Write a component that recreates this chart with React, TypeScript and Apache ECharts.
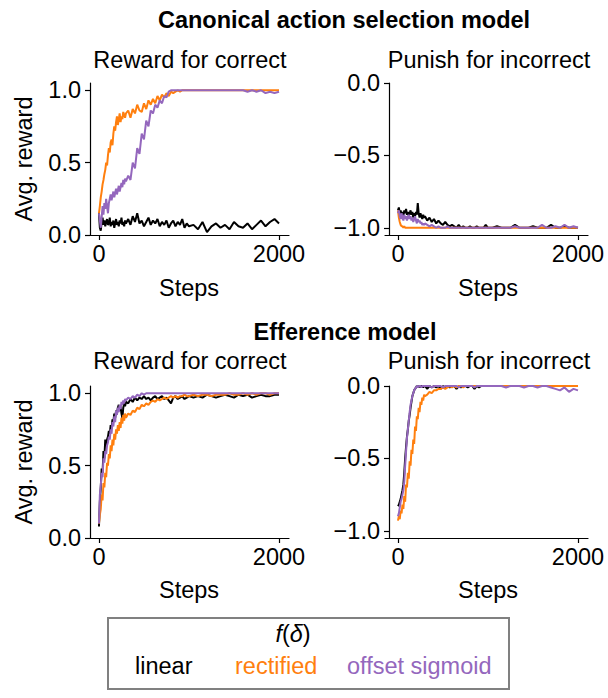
import React, { useEffect, useRef } from "react";
import * as echarts from "echarts";

const steps = [
  0, 10, 20, 30, 40, 50, 60, 70, 80, 90, 100, 110, 120, 130, 140, 150, 160, 170, 180, 190, 200, 210, 220, 230, 240, 250, 260, 270, 280, 290, 300,
  325, 350, 375, 400, 425, 450, 475, 500, 525, 550, 575, 600, 625, 650, 675, 700, 725, 750, 775, 800, 825, 850, 875, 900, 925, 950, 975, 1000,
  1050, 1100, 1150, 1200, 1250, 1300, 1350, 1400, 1450, 1500, 1550, 1600, 1650, 1700, 1750, 1800, 1850, 1900, 1950, 2000,
];

// Canonical action selection model — reward for correct
const canonRewardLinear = [
  0.15, 0.05, 0.03, 0.09, 0.12, 0.07, 0.1, 0.06, 0.09, 0.11, 0.07, 0.08, 0.12, 0.06, 0.09, 0.07, 0.1, 0.05, 0.08, 0.11, 0.07, 0.09, 0.06, 0.1, 0.08, 0.12, 0.07, 0.09, 0.06, 0.1, 0.08,
  0.11, 0.07, 0.13, 0.09, 0.15, 0.08, 0.1, 0.06, 0.09, 0.12, 0.07, 0.1, 0.08, 0.11, 0.06, 0.09, 0.07, 0.1, 0.05, 0.08, 0.1, 0.06, 0.09, 0.07, 0.11, 0.05, 0.08, 0.06,
  0.07, 0.04, 0.09, 0.02, 0.06, 0.08, 0.05, 0.07, 0.04, 0.09, 0.06, 0.05, 0.08, 0.04, 0.07, 0.1, 0.06, 0.09, 0.11, 0.08,
];
const canonRewardRectified = [
  0.15, 0.2, 0.26, 0.3, 0.35, 0.38, 0.42, 0.45, 0.5, 0.48, 0.55, 0.6, 0.57, 0.64, 0.66, 0.62, 0.7, 0.75, 0.72, 0.78, 0.82, 0.76, 0.8, 0.84, 0.78, 0.82, 0.8, 0.85, 0.83, 0.81, 0.84,
  0.86, 0.81, 0.87, 0.84, 0.9, 0.86, 0.85, 0.91, 0.87, 0.93, 0.9, 0.94, 0.91, 0.96, 0.93, 0.97, 0.95, 0.98, 0.96, 0.99, 0.98, 0.99, 1, 0.99, 1, 1, 1, 1,
  1, 1, 1, 1, 1, 1, 1, 1, 1, 1, 1, 1, 1, 1, 1, 1, 1, 1, 1, 1,
];
const canonRewardSigmoid = [
  0.15, 0.1, 0.05, 0.12, 0.2, 0.14, 0.22, 0.18, 0.25, 0.2, 0.15, 0.22, 0.25, 0.28, 0.24, 0.27, 0.3, 0.26, 0.29, 0.32, 0.28, 0.31, 0.34, 0.3, 0.33, 0.36, 0.33, 0.38, 0.35, 0.39, 0.37,
  0.41, 0.38, 0.5, 0.46, 0.6, 0.56, 0.7, 0.66, 0.79, 0.75, 0.86, 0.84, 0.9, 0.88, 0.93, 0.91, 0.96, 0.95, 0.99, 1, 1, 1, 1, 1, 1, 1, 1, 1,
  1, 1, 1, 1, 1, 1, 1, 1, 1, 1, 1, 1, 0.99, 1, 0.99, 1, 0.98, 0.99, 0.98, 0.99,
];

// Canonical action selection model — punish for incorrect
const canonPunishLinear = [
  -0.88, -0.86, -0.9, -0.88, -0.91, -0.89, -0.92, -0.88, -0.9, -0.87, -0.91, -0.89, -0.92, -0.9, -0.88, -0.91, -0.89, -0.93, -0.9, -0.92, -0.89, -0.91, -0.83, -0.9, -0.93, -0.9, -0.92, -0.94, -0.91, -0.93, -0.92,
  -0.95, -0.93, -0.96, -0.94, -0.97, -0.95, -0.97, -0.98, -0.96, -0.98, -0.99, -0.98, -0.99, -1, -0.98, -1, -0.99, -1, -1, -0.99, -1, -1, -0.99, -1, -1, -1, -0.98, -1,
  -1, -0.99, -1, -1, -1, -0.98, -1, -1, -1, -0.99, -1, -1, -1, -0.98, -1, -1, -0.99, -1, -1, -1,
];
const canonPunishRectified = [
  -0.88, -0.93, -0.96, -0.98, -0.99, -0.99, -1, -0.99, -1, -1, -1, -1, -1, -1, -1, -1, -1, -1, -1, -1, -1, -1, -1, -1, -1, -1, -1, -1, -1, -1, -1,
  -1, -1, -1, -1, -1, -1, -1, -1, -1, -1, -1, -1, -1, -1, -1, -1, -1, -1, -1, -1, -1, -1, -1, -1, -1, -1, -1, -1,
  -1, -1, -1, -1, -1, -1, -1, -1, -1, -1, -1, -1, -1, -1, -1, -1, -1, -1, -1, -1,
];
const canonPunishSigmoid = [
  -0.9, -0.88, -0.92, -0.94, -0.9, -0.93, -0.95, -0.91, -0.94, -0.92, -0.95, -0.93, -0.91, -0.94, -0.92, -0.95, -0.93, -0.96, -0.94, -0.92, -0.95, -0.97, -0.94, -0.96, -0.95, -0.97, -0.96, -0.98, -0.97, -0.98, -0.97,
  -0.98, -0.99, -0.98, -0.99, -1, -0.99, -1, -1, -1, -0.99, -1, -1, -1, -1, -1, -1, -1, -1, -1, -1, -1, -1, -1, -1, -1, -1, -1, -1,
  -1, -1, -1, -1, -1, -0.99, -1, -1, -1, -1, -1, -0.98, -1, -1, -0.99, -1, -0.98, -1, -0.99, -1,
];

// Efference model — reward for correct
const effRewardLinear = [
  0.08, 0.25, 0.35, 0.48, 0.45, 0.6, 0.55, 0.68, 0.64, 0.68, 0.7, 0.74, 0.72, 0.78, 0.76, 0.82, 0.8, 0.86, 0.83, 0.88, 0.86, 0.9, 0.92, 0.88, 0.91, 0.86, 0.83, 0.9, 0.93, 0.91, 0.94,
  0.93, 0.96, 0.94, 0.97, 0.95, 0.97, 0.96, 0.98, 0.96, 0.97, 0.95, 0.97, 0.98, 0.96, 0.97, 0.98, 0.96, 0.97, 0.95, 0.93, 0.97, 0.98, 0.96, 0.97, 0.98, 0.96, 0.97, 0.98,
  0.97, 0.98, 0.97, 0.99, 0.98, 0.97, 0.98, 0.99, 0.98, 0.97, 0.99, 0.98, 0.99, 0.97, 0.98, 0.99, 0.98, 0.98, 0.99, 0.99,
];
const effRewardRectified = [
  0.1, 0.16, 0.2, 0.3, 0.26, 0.38, 0.35, 0.45, 0.42, 0.52, 0.5, 0.58, 0.55, 0.64, 0.6, 0.68, 0.64, 0.72, 0.68, 0.75, 0.72, 0.78, 0.74, 0.8, 0.76, 0.83, 0.79, 0.85, 0.81, 0.86, 0.83,
  0.86, 0.85, 0.88, 0.87, 0.9, 0.89, 0.92, 0.91, 0.93, 0.92, 0.94, 0.95, 0.94, 0.96, 0.95, 0.96, 0.97, 0.96, 0.97, 0.98, 0.97, 0.98, 0.97, 0.98, 0.98, 0.99, 0.98, 0.98,
  0.99, 0.98, 0.99, 0.99, 0.98, 0.99, 0.99, 0.99, 1, 0.99, 0.99, 1, 0.99, 1, 0.99, 1, 1, 0.99, 1, 1,
];
const effRewardSigmoid = [
  0.1, 0.3, 0.36, 0.45, 0.42, 0.55, 0.52, 0.6, 0.58, 0.64, 0.66, 0.7, 0.68, 0.75, 0.72, 0.8, 0.77, 0.84, 0.8, 0.88, 0.85, 0.9, 0.87, 0.92, 0.89, 0.94, 0.92, 0.95, 0.93, 0.96, 0.95,
  0.97, 0.96, 0.98, 0.97, 0.99, 0.98, 1, 0.99, 1, 1, 1, 1, 1, 1, 1, 1, 1, 1, 1, 1, 1, 1, 1, 1, 1, 1, 1, 1,
  1, 1, 1, 1, 1, 1, 1, 1, 1, 1, 1, 1, 1, 1, 1, 1, 1, 1, 1, 1,
];

// Efference model — punish for incorrect
const effPunishLinear = [
  -0.83, -0.82, -0.8, -0.78, -0.75, -0.72, -0.68, -0.6, -0.5, -0.42, -0.35, -0.3, -0.24, -0.2, -0.15, -0.11, -0.07, -0.05, -0.03, -0.02, -0.01, 0, -0.01, 0, 0, -0.01, 0, 0, -0.01, 0, 0,
  -0.02, 0, -0.01, 0, -0.01, 0, -0.02, 0, -0.01, 0, -0.01, 0, 0, -0.02, 0, -0.01, 0, 0, -0.01, 0, 0, -0.02, 0, -0.01, 0, 0, 0, 0,
  0, 0, 0, 0, 0, 0, 0, 0, 0, 0, 0, 0, 0, 0, 0, 0, 0, 0, 0, 0,
];
const effPunishRectified = [
  -0.93, -0.9, -0.92, -0.86, -0.88, -0.82, -0.85, -0.76, -0.8, -0.68, -0.7, -0.6, -0.64, -0.52, -0.55, -0.44, -0.47, -0.37, -0.4, -0.28, -0.31, -0.21, -0.23, -0.15, -0.18, -0.11, -0.13, -0.08, -0.1, -0.06, -0.07,
  -0.06, -0.04, -0.05, -0.03, -0.03, -0.02, -0.02, -0.01, -0.02, -0.01, 0, -0.01, 0, -0.01, 0, 0, -0.01, 0, 0, 0, 0, 0, 0, 0, 0, 0, 0, 0,
  0, 0, 0, 0, 0, 0, 0, 0, 0, 0, 0, 0, 0, 0, 0, 0, 0, 0, 0, 0,
];
const effPunishSigmoid = [
  -0.9, -0.88, -0.84, -0.8, -0.78, -0.75, -0.72, -0.66, -0.55, -0.45, -0.36, -0.3, -0.24, -0.18, -0.13, -0.1, -0.07, -0.05, -0.03, -0.02, -0.01, 0, -0.01, 0, 0, 0, -0.01, 0, 0, 0, 0,
  0, 0, -0.01, 0, 0, 0, 0, -0.01, 0, 0, 0, 0, 0, 0, -0.01, 0, 0, 0, 0, 0, 0, -0.01, 0, 0, 0, 0, 0, 0,
  0, 0, 0, -0.01, 0, 0, 0, -0.01, 0, 0, -0.01, 0, 0, -0.01, -0.02, -0.03, -0.01, -0.04, -0.02, -0.03,
];

const xTicks = [0, 2000];
const rewardTicks = [0, 0.5, 1];
const punishTicks = [-1, -0.5, 0];

const FONT = "'Liberation Sans', Arial, Helvetica, sans-serif";
const FS = 23.5;
const C_LIN = "#000000";
const C_REC = "#ff7f0e";
const C_SIG = "#9467bd";

const panels = [
  { lin: canonRewardLinear, rec: canonRewardRectified, sig: canonRewardSigmoid, ticks: rewardTicks, min: 0, max: 1.05 },
  { lin: canonPunishLinear, rec: canonPunishRectified, sig: canonPunishSigmoid, ticks: punishTicks, min: -1.05, max: 0 },
  { lin: effRewardLinear, rec: effRewardRectified, sig: effRewardSigmoid, ticks: rewardTicks, min: 0, max: 1.05 },
  { lin: effPunishLinear, rec: effPunishRectified, sig: effPunishSigmoid, ticks: punishTicks, min: -1.05, max: 0 },
];

const gridPos = [
  { left: 86, top: 83 },
  { left: 385, top: 83 },
  { left: 86, top: 386 },
  { left: 385, top: 386 },
];

function pairs(ys: number[]) {
  return steps.map((s, i) => [s, ys[i]]);
}

function txt(text: string, x: number, y: number, extra: any = {}) {
  return {
    type: "text",
    x,
    y,
    rotation: extra.rotation || 0,
    silent: true,
    style: {
      text,
      x: 0,
      y: 0,
      fill: extra.fill || "#000",
      font: extra.font || `${FS}px ${FONT}`,
      textAlign: extra.align || "center",
      textVerticalAlign: "middle",
      align: extra.align || "center",
      verticalAlign: "middle",
      rich: extra.rich,
    },
  };
}

export default function App() {
  const ref = useRef<HTMLDivElement>(null);
  useEffect(() => {
    if (!ref.current) return;
    const chart = echarts.init(ref.current, undefined, { renderer: "svg" });
    const axisLine = { show: true, lineStyle: { color: "#000", width: 1.2 } };
    const grid = gridPos.map((g) => ({ left: g.left, top: g.top, width: 203, height: 152, containLabel: false }));
    const xAxis = panels.map((_, i) => ({
      type: "value",
      gridIndex: i,
      min: -144,
      max: 2111,
      axisLine: { ...axisLine, onZero: false },
      axisTick: { show: true, length: 5, inside: false, customValues: xTicks, lineStyle: { color: "#000", width: 1.2 } },
      axisLabel: { customValues: xTicks, fontSize: FS, fontFamily: FONT, color: "#000", margin: 7, formatter: (v: number) => String(v) },
      splitLine: { show: false },
    }));
    const yAxis = panels.map((p, i) => ({
      type: "value",
      gridIndex: i,
      min: p.min,
      max: p.max,
      offset: -4,
      axisLine: { ...axisLine, onZero: false },
      axisTick: { show: true, length: 5, inside: false, customValues: p.ticks, lineStyle: { color: "#000", width: 1.2 } },
      axisLabel: {
        customValues: p.ticks,
        fontSize: FS,
        fontFamily: FONT,
        color: "#000",
        margin: 9,
        formatter: (v: number) => v.toFixed(1).replace("-", "\u2212"),
      },
      splitLine: { show: false },
    }));
    const series: any[] = [];
    panels.forEach((p, i) => {
      [
        [p.lin, C_LIN],
        [p.rec, C_REC],
        [p.sig, C_SIG],
      ].forEach(([ys, color]) => {
        series.push({
          type: "line",
          xAxisIndex: i,
          yAxisIndex: i,
          data: pairs(ys as number[]),
          showSymbol: false,
          symbol: "none",
          clip: false,
          lineStyle: { color: color as string, width: 2 },
          itemStyle: { color: color as string },
        });
      });
    });

    const graphic: any[] = [
      txt("Canonical action selection model", 344, 20, { font: `bold ${FS}px ${FONT}` }),
      txt("Reward for correct", 190, 60),
      txt("Punish for incorrect", 489, 60),
      txt("Steps", 189, 288),
      txt("Steps", 488, 288),
      txt("Avg. reward", 24, 159, { rotation: Math.PI / 2 }),
      txt("Efference model", 345, 332, { font: `bold ${FS}px ${FONT}` }),
      txt("Reward for correct", 190, 361),
      txt("Punish for incorrect", 489, 361),
      txt("Steps", 189, 590),
      txt("Steps", 488, 590),
      txt("Avg. reward", 24, 462, { rotation: Math.PI / 2 }),
      {
        type: "rect",
        silent: true,
        shape: { x: 108, y: 618, width: 401, height: 71 },
        style: { fill: "#ffffff", stroke: "#808080", lineWidth: 2 },
      },
      txt("{i|f}({i|δ})", 293, 634, {
        rich: { i: { fontStyle: "italic", fontSize: FS, fontFamily: FONT, fill: "#000" } },
      }),
      txt("linear", 135, 666, { align: "left", fill: C_LIN }),
      txt("rectified", 235, 666, { align: "left", fill: C_REC }),
      txt("offset sigmoid", 347, 666, { align: "left", fill: C_SIG }),
    ];

    chart.setOption({
      animation: false,
      backgroundColor: "#ffffff",
      grid,
      xAxis,
      yAxis,
      series,
      graphic,
    });
    return () => chart.dispose();
  }, []);
  return (
    <div
      ref={ref}
      style={{ position: "absolute", left: 0, top: 0, width: 608, height: 698 }}
    />
  );
}
